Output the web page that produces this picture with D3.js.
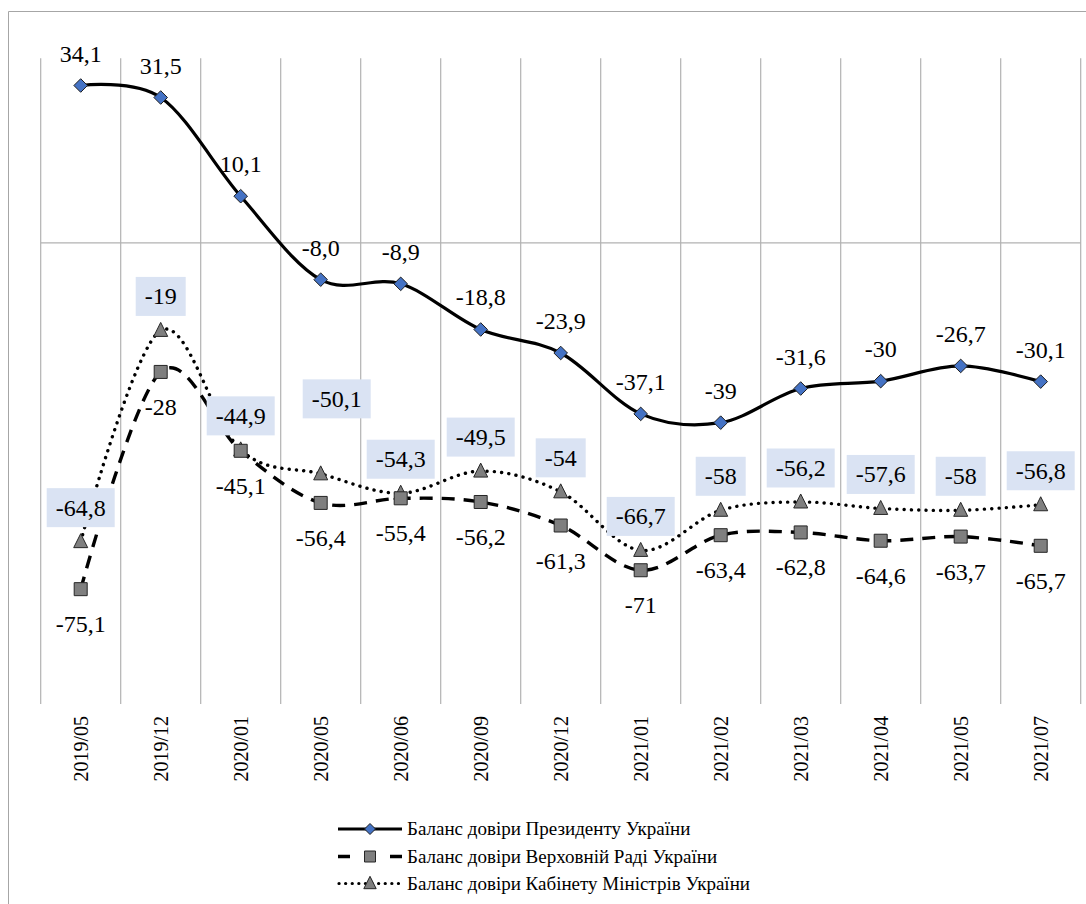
<!DOCTYPE html>
<html><head><meta charset="utf-8"><script src="https://cdn.jsdelivr.net/npm/d3@7"></script></head>
<body style="margin:0">
<svg id="chart" width="1086" height="904" style="display:block"></svg>
<script>
// ---------- data ----------
const categories = ["2019/05","2019/12","2020/01","2020/05","2020/06","2020/09","2020/12","2021/01","2021/02","2021/03","2021/04","2021/05","2021/07"];
const presidentValues = [34.1, 31.5, 10.1, -8.0, -8.9, -18.8, -23.9, -37.1, -39, -31.6, -30, -26.7, -30.1];
const presidentLabels = ["34,1","31,5","10,1","-8,0","-8,9","-18,8","-23,9","-37,1","-39","-31,6","-30","-26,7","-30,1"];
const radaValues = [-75.1, -28, -45.1, -56.4, -55.4, -56.2, -61.3, -71, -63.4, -62.8, -64.6, -63.7, -65.7];
const radaLabels = ["-75,1","-28","-45,1","-56,4","-55,4","-56,2","-61,3","-71","-63,4","-62,8","-64,6","-63,7","-65,7"];
const cabinetValues = [-64.8, -19, -44.9, -50.1, -54.3, -49.5, -54, -66.7, -58, -56.2, -57.6, -58, -56.8];
const cabinetLabels = ["-64,8","-19","-44,9","-50,1","-54,3","-49,5","-54","-66,7","-58","-56,2","-57,6","-58","-56,8"];
const seriesNames = ["Баланс довіри Президенту України","Баланс довіри Верховній Раді України","Баланс довіри Кабінету Міністрів України"];
const yDomain = [-100, 40];

// ---------- layout ----------
const svg = d3.select("#chart");
const plot = { left: 40.7, right: 1080.7, top: 58.3, bottom: 704 };
const fontNames = ["Liberation Serif", "Times New Roman", "Tinos", "DejaVu Serif", "Noto Serif", "Caladea", "Cambria", "Noto Serif CJK SC"];
const FONT = fontNames.map(f => `"${f}"`).join(", ") + ", sans-serif";
const gridColor = "#b2b2b2";
const markerFill = "#7f7f7f";
const diamondFill = "#4472c4";
const boxFill = "#dae3f3";
// manual label nudges (layout only)
const cabinetNudge = { 3: { dx: 16, dy: -41 } };

function setFont(sel, size) {
  return sel.attr("font-size", size).style("font-family", FONT);
}

// outer chart border (cropped on right & bottom)
svg.append("path")
  .attr("d", "M8.5,904 L8.5,11.5 L1086,11.5")
  .attr("fill", "none").attr("stroke", "#a6a6a6").attr("stroke-width", 1);

const x = d3.scaleBand().domain(categories).range([plot.left, plot.right]).padding(0);
const cx = d => x(d) + x.bandwidth() / 2;
const y = d3.scaleLinear().domain(yDomain).range([plot.bottom, plot.top]);

// vertical category gridlines
const bounds = d3.range(categories.length + 1).map(i => plot.left + i * x.bandwidth());
svg.append("g").selectAll("line").data(bounds).join("line")
  .attr("x1", d => d).attr("x2", d => d)
  .attr("y1", plot.top).attr("y2", plot.bottom)
  .attr("stroke", gridColor).attr("stroke-width", 1.2);

// horizontal axis line at zero
svg.append("line")
  .attr("x1", plot.left).attr("x2", plot.right)
  .attr("y1", y(0)).attr("y2", y(0))
  .attr("stroke", gridColor).attr("stroke-width", 1.2);

// category labels (low position, rotated)
const xAxis = d3.axisBottom(x).tickSize(0).tickPadding(0);
const gx = svg.append("g").attr("transform", `translate(0,${plot.bottom})`).call(xAxis);
gx.select(".domain").remove();
gx.attr("font-family", null).attr("font-size", null);
setFont(gx.selectAll(".tick text"), 20)
  .attr("fill", "#000")
  .attr("text-anchor", "end")
  .attr("transform", "translate(7,12) rotate(-90)")
  .attr("dy", 0).attr("y", 0).attr("x", 0);

// ---------- series ----------
const curve = d3.curveCatmullRom.alpha(0);
const lineGen = d3.line().x((d, i) => cx(categories[i])).y(d => y(d)).curve(curve);

function diamondPath(s) { return `M0,${-s}L${s},0L0,${s}L${-s},0Z`; }
function squarePath(s) { return `M${-s},${-s}H${s}V${s}H${-s}Z`; }
function trianglePath(s) { return `M0,${-s - 1}L${s},${s - 1}L${-s},${s - 1}Z`; }

// cabinet (dotted)
svg.append("path").datum(cabinetValues)
  .attr("d", lineGen).attr("fill", "none")
  .attr("stroke", "#000").attr("stroke-width", 3.4)
  .attr("stroke-linecap", "round").attr("stroke-dasharray", "0.1,7.2");

// rada (dashed)
svg.append("path").datum(radaValues)
  .attr("d", lineGen).attr("fill", "none")
  .attr("stroke", "#000").attr("stroke-width", 3.4)
  .attr("stroke-dasharray", "13,9");

// president (solid)
svg.append("path").datum(presidentValues)
  .attr("d", lineGen).attr("fill", "none")
  .attr("stroke", "#000").attr("stroke-width", 3.2);

// markers
svg.append("g").selectAll("path").data(cabinetValues).join("path")
  .attr("transform", (d, i) => `translate(${cx(categories[i])},${y(d)})`)
  .attr("d", trianglePath(7)).attr("fill", markerFill).attr("stroke", "#262626").attr("stroke-width", 1);
svg.append("g").selectAll("path").data(radaValues).join("path")
  .attr("transform", (d, i) => `translate(${cx(categories[i])},${y(d)})`)
  .attr("d", squarePath(6.5)).attr("fill", markerFill).attr("stroke", "#262626").attr("stroke-width", 1);
svg.append("g").selectAll("path").data(presidentValues).join("path")
  .attr("transform", (d, i) => `translate(${cx(categories[i])},${y(d)})`)
  .attr("d", diamondPath(6.8)).attr("fill", diamondFill).attr("stroke", "#1f1f1f").attr("stroke-width", 1);

// ---------- data labels ----------
const labelSize = 24;
setFont(svg.append("g").selectAll("text").data(presidentValues).join("text"), labelSize)
  .attr("x", (d, i) => cx(categories[i]))
  .attr("y", d => y(d) - 32 + 8)
  .attr("text-anchor", "middle").attr("fill", "#000")
  .text((d, i) => presidentLabels[i]);

setFont(svg.append("g").selectAll("text").data(radaValues).join("text"), labelSize)
  .attr("x", (d, i) => cx(categories[i]))
  .attr("y", d => y(d) + 35 + 8)
  .attr("text-anchor", "middle").attr("fill", "#000")
  .text((d, i) => radaLabels[i]);

const cabG = svg.append("g").selectAll("g").data(cabinetValues).join("g")
  .attr("transform", (d, i) => {
    const n = cabinetNudge[i] || { dx: 0, dy: 0 };
    return `translate(${cx(categories[i]) + n.dx},${y(d) - 34 + n.dy})`;
  });
setFont(cabG.append("text"), labelSize)
  .attr("x", 0).attr("y", 8)
  .attr("text-anchor", "middle").attr("fill", "#000")
  .text((d, i) => cabinetLabels[i]);
cabG.each(function() {
  const g = d3.select(this);
  const bb = g.select("text").node().getBBox();
  g.insert("rect", "text")
    .attr("x", bb.x - 9).attr("y", -19.5)
    .attr("width", bb.width + 18).attr("height", 39)
    .attr("fill", boxFill);
});

// ---------- legend ----------
const legendRows = [829, 856.5, 883.5];
const lgX0 = 338, lgX1 = 402, lgMid = 370, lgText = 407;
const lg = svg.append("g");
lg.append("line").attr("x1", lgX0).attr("x2", lgX1).attr("y1", legendRows[0]).attr("y2", legendRows[0])
  .attr("stroke", "#000").attr("stroke-width", 3.2);
lg.append("path").attr("transform", `translate(${lgMid},${legendRows[0]})`)
  .attr("d", diamondPath(5.5)).attr("fill", diamondFill).attr("stroke", "#1f1f1f").attr("stroke-width", 1);
lg.append("line").attr("x1", lgX0).attr("x2", lgX1).attr("y1", legendRows[1]).attr("y2", legendRows[1])
  .attr("stroke", "#000").attr("stroke-width", 3.4).attr("stroke-dasharray", "12,14");
lg.append("path").attr("transform", `translate(${lgMid},${legendRows[1]})`)
  .attr("d", squarePath(5.5)).attr("fill", markerFill).attr("stroke", "#262626").attr("stroke-width", 1);
lg.append("line").attr("x1", lgX0 + 1).attr("x2", lgX1).attr("y1", legendRows[2]).attr("y2", legendRows[2])
  .attr("stroke", "#000").attr("stroke-width", 3.2).attr("stroke-linecap", "round").attr("stroke-dasharray", "0.1,6.5");
lg.append("path").attr("transform", `translate(${lgMid},${legendRows[2]})`)
  .attr("d", trianglePath(6.2)).attr("fill", markerFill).attr("stroke", "#262626").attr("stroke-width", 1);
setFont(lg.selectAll("text.lbl").data(seriesNames).join("text"), 19)
  .attr("class", "lbl")
  .attr("x", lgText).attr("y", (d, i) => legendRows[i] + 6)
  .attr("fill", "#000")
  .text(d => d);
</script>
</body></html>
